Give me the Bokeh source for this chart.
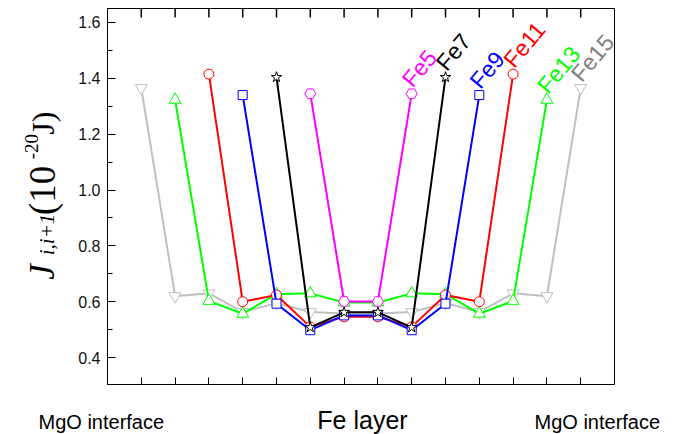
import math
from bokeh.plotting import figure
from bokeh.models import Label, FixedTicker, Range1d
from bokeh.layouts import column, row
from bokeh.core.properties import value
from bokeh.embed import file_html
from bokeh.resources import INLINE

# ---- data (bond index along the Fe layer, coupling J in 1e-20 J) ----
fe15_x = list(range(1, 15))
fe15_y = [1.365, 0.62, 0.63, 0.563, 0.595, 0.563, 0.558, 0.558, 0.563, 0.595, 0.563, 0.63, 0.62, 1.365]
fe13_x = list(range(2, 14))
fe13_y = [1.323, 0.603, 0.557, 0.627, 0.63, 0.597, 0.597, 0.63, 0.627, 0.557, 0.603, 1.323]
fe11_x = list(range(3, 13))
fe11_y = [1.415, 0.60, 0.624, 0.51, 0.546, 0.546, 0.51, 0.624, 0.60, 1.415]
fe9_x = list(range(4, 12))
fe9_y = [1.34, 0.593, 0.498, 0.551, 0.551, 0.498, 0.593, 1.34]
fe7_x = list(range(5, 11))
fe7_y = [1.404, 0.508, 0.562, 0.562, 0.508, 1.404]
fe5_x = list(range(6, 10))
fe5_y = [1.345, 0.601, 0.601, 1.345]

series_names = ["Fe15", "Fe13", "Fe11", "Fe9", "Fe7", "Fe5"]
layer_ticks = list(range(1, 15))
y_ticks = [0.4, 0.6, 0.8, 1.0, 1.2, 1.4, 1.6]
y_tick_labels = ["0.4", "0.6", "0.8", "1.0", "1.2", "1.4", "1.6"]
y_minor = [0.5, 0.7, 0.9, 1.1, 1.3, 1.5]
y_min, y_max = 0.3, 1.65

styles = {
    "Fe15": dict(x=fe15_x, y=fe15_y, line="#C0C0C0", text="#808080", marker="inverted_triangle", size=12),
    "Fe13": dict(x=fe13_x, y=fe13_y, line="#00FF00", text="#00FF00", marker="triangle", size=12),
    "Fe11": dict(x=fe11_x, y=fe11_y, line="#FF0000", text="#FF0000", marker="circle", size=10),
    "Fe9": dict(x=fe9_x, y=fe9_y, line="#0000FF", text="#0000FF", marker="square", size=9),
    "Fe7": dict(x=fe7_x, y=fe7_y, line="#000000", text="#000000", marker="star", size=11),
    "Fe5": dict(x=fe5_x, y=fe5_y, line="#FF00FF", text="#FF00FF", marker="hex", size=11),
}

# ---------------- main plot ----------------
PLOT_H, TOP_B = 385, 8
p = figure(width=611, height=PLOT_H, x_range=Range1d(0, 15), y_range=Range1d(y_min, y_max),
           output_backend="svg", toolbar_location=None,
           min_border_left=43, min_border_right=61, min_border_top=TOP_B, min_border_bottom=0)
p.grid.visible = False
p.outline_line_color = "black"
p.outline_line_width = 1

xb = p.xaxis[0]
xb.ticker = FixedTicker(ticks=[], minor_ticks=layer_ticks)
xb.minor_tick_in = 8
xb.minor_tick_out = 0
xb.minor_tick_line_color = "black"
xb.major_tick_line_color = None
xb.major_label_standoff = 0
xb.axis_line_color = "black"

# mirrored ticks along the top edge of the frame (pointing down)
tick_len = 9 * (y_max - y_min) / (PLOT_H - TOP_B)
p.segment(x0=layer_ticks, y0=[y_max] * len(layer_ticks), x1=layer_ticks,
          y1=[y_max - tick_len] * len(layer_ticks), line_color="black", line_width=1.5)

ya = p.yaxis[0]
ya.ticker = FixedTicker(ticks=y_ticks, minor_ticks=y_minor)
ya.major_label_overrides = {t: l for t, l in zip(y_ticks, y_tick_labels)}
ya.major_tick_in = 8
ya.major_tick_out = 0
ya.minor_tick_in = 5
ya.minor_tick_out = 0
ya.major_label_standoff = 7
ya.major_label_text_font = "Liberation Sans"
ya.major_label_text_font_size = "16px"
ya.major_label_text_color = "#111111"
ya.axis_line_color = "black"

for name in series_names:
    s = styles[name]
    p.line(s["x"], s["y"], line_color=s["line"], line_width=2)
    p.scatter(s["x"], s["y"], marker=s["marker"], size=s["size"], line_color=s["line"],
              fill_color="white", line_width=1)
    p.add_layout(Label(x=s["x"][-1], y=s["y"][-1], x_offset=-5, y_offset=10, text=name,
                       angle=math.radians(50), text_color=s["text"], text_font="Liberation Sans",
                       text_font_size="23px", text_baseline="alphabetic", text_align="left"))

# ---------------- y-axis title (left strip) ----------------
ylab = figure(width=64, height=PLOT_H, x_range=Range1d(0, 64), y_range=Range1d(0, PLOT_H),
              x_axis_type=None, y_axis_type=None, output_backend="svg", toolbar_location=None,
              min_border=0, outline_line_color=None)
ylab.grid.visible = False
ylab_parts = [("J", 42, 108, "35px", "italic"),
              ("i,i+1", 46, 133, "21px", "italic"),
              ("(10", 42, 174, "37px", "normal"),
              ("-20", 31, 231, "19px", "normal"),
              ("J)", 42, 256, "32px", "normal")]
for txt, x, y, size, style in ylab_parts:
    ylab.text(x=[x], y=[y], text=[txt], angle=math.pi / 2, text_font=value("Liberation Serif"),
              text_font_size=value(size), text_font_style=style, text_baseline="alphabetic",
              text_align="left", text_color="black")

# ---------------- bottom strip ----------------
bot = figure(width=675, height=49, x_range=Range1d(0, 675), y_range=Range1d(0, 49),
             x_axis_type=None, y_axis_type=None, output_backend="svg", toolbar_location=None,
             min_border=0, outline_line_color=None)
bot.grid.visible = False
bottom_texts = [("MgO interface", 38, 13, "left", "20px"),
                ("Fe layer", 362, 15, "center", "25px"),
                ("MgO interface", 534, 13, "left", "20px")]
for txt, x, y, align, size in bottom_texts:
    bot.text(x=[x], y=[y], text=[txt], text_font=value("Liberation Sans"),
             text_font_size=value(size), text_align=align, text_baseline="alphabetic",
             text_color="black")

layout = column(row(ylab, p), bot)
open("out.html", "w").write(file_html(layout, INLINE))
